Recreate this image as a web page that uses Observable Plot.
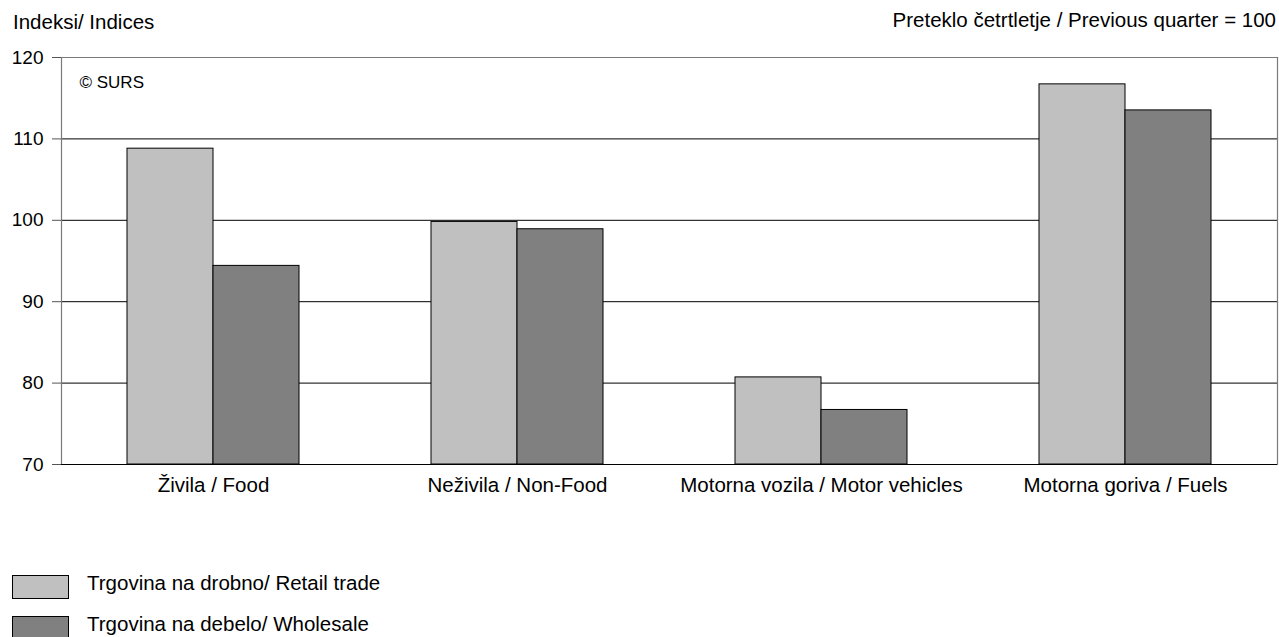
<!DOCTYPE html>
<html>
<head>
<meta charset="utf-8">
<script src="https://cdn.jsdelivr.net/npm/d3@7"></script>
<script src="https://cdn.jsdelivr.net/npm/@observablehq/plot@0.6"></script>
<style>
  html, body { margin: 0; padding: 0; background: #fff; }
  body { font-family: "Liberation Sans", Arial, sans-serif; color: #000; }
  #wrap { position: relative; width: 1279px; height: 637px; overflow: hidden; }
  .t { position: absolute; font-size: 20.5px; white-space: nowrap; line-height: 1; }
  .sw { position: absolute; left: 12px; width: 55px; height: 22px; border: 1.5px solid #000; box-sizing: content-box; }
  #chart { position: absolute; left: 0; top: 0; }
</style>
</head>
<body>
<div id="wrap">
  <div id="chart"></div>
  <div class="t" id="ylabel" style="left:13px; top:12px;"></div>
  <div class="t" id="note" style="right:3px; top:10px;"></div>
  <div id="legend"></div>
</div>
<script>
// ---- data ----
const categories = ["Živila / Food", "Neživila / Non-Food", "Motorna vozila / Motor vehicles", "Motorna goriva / Fuels"];
const seriesNames = ["Trgovina na drobno/ Retail trade", "Trgovina na debelo/ Wholesale"];
const retail = [108.8, 99.8, 80.7, 116.7];
const wholesale = [94.4, 98.9, 76.7, 113.5];
const yTicks = [70, 80, 90, 100, 110, 120];
const seriesColors = ["#c0c0c0", "#808080"];
const yLabel = "Indeksi/ Indices";
const noteText = "Preteklo četrtletje / Previous quarter = 100";
const credit = "© SURS";

const yMin = yTicks[0], yMax = yTicks[yTicks.length - 1];
const rows = [];
categories.forEach((c, i) => {
  rows.push({cat: c, series: seriesNames[0], value: retail[i], base: yMin});
  rows.push({cat: c, series: seriesNames[1], value: wholesale[i], base: yMin});
});

const chart = Plot.plot({
  width: 1279,
  height: 520,
  marginLeft: 61,
  marginRight: 2,
  marginTop: 57,
  marginBottom: 56,
  style: {fontFamily: "Liberation Sans, Arial, sans-serif", fontSize: "19px", color: "#000", background: "#fff"},
  fx: {domain: categories, padding: 0, label: null},
  x: {domain: seriesNames, paddingInner: 0, paddingOuter: 0.75, axis: null},
  y: {domain: [yMin, yMax], label: null},
  color: {domain: seriesNames, range: seriesColors},
  marks: [
    Plot.ruleY(yTicks.slice(1, -1), {stroke: "#000", strokeWidth: 1}),
    Plot.frame({anchor: "top", stroke: "#7a7a7a", strokeWidth: 1.2}),
    Plot.frame({anchor: "left", facetAnchor: "left", stroke: "#7a7a7a", strokeWidth: 1.2}),
    Plot.frame({anchor: "right", facetAnchor: "right", stroke: "#7a7a7a", strokeWidth: 1.2}),
    Plot.barY(rows, {fx: "cat", x: "series", y1: "base", y2: "value", fill: "series", stroke: "#000", strokeWidth: 1}),
    Plot.ruleY([yMin], {stroke: "#000", strokeWidth: 1.2}),
    Plot.axisY({ticks: yTicks, tickSize: 9, tickPadding: 9, label: null, fontSize: 19, stroke: "#555"}),
    Plot.axisFx({anchor: "bottom", tickSize: 0, tickPadding: 13, label: null, fontSize: 20.5}),
    Plot.text([credit], {frameAnchor: "top-left", facetAnchor: "left", dx: 18, dy: 18, fontSize: 17, textAnchor: "start"})
  ]
});
document.getElementById("chart").appendChild(chart);

document.getElementById("ylabel").textContent = yLabel;
document.getElementById("note").textContent = noteText;

const legend = document.getElementById("legend");
seriesNames.forEach((s, i) => {
  const top = 575 + i * 41;
  const sw = document.createElement("div");
  sw.className = "sw";
  sw.style.top = top + "px";
  sw.style.background = seriesColors[i];
  legend.appendChild(sw);
  const t = document.createElement("div");
  t.className = "t";
  t.style.left = "87px";
  t.style.top = (top - 2) + "px";
  t.textContent = s;
  legend.appendChild(t);
});
</script>
</body>
</html>
